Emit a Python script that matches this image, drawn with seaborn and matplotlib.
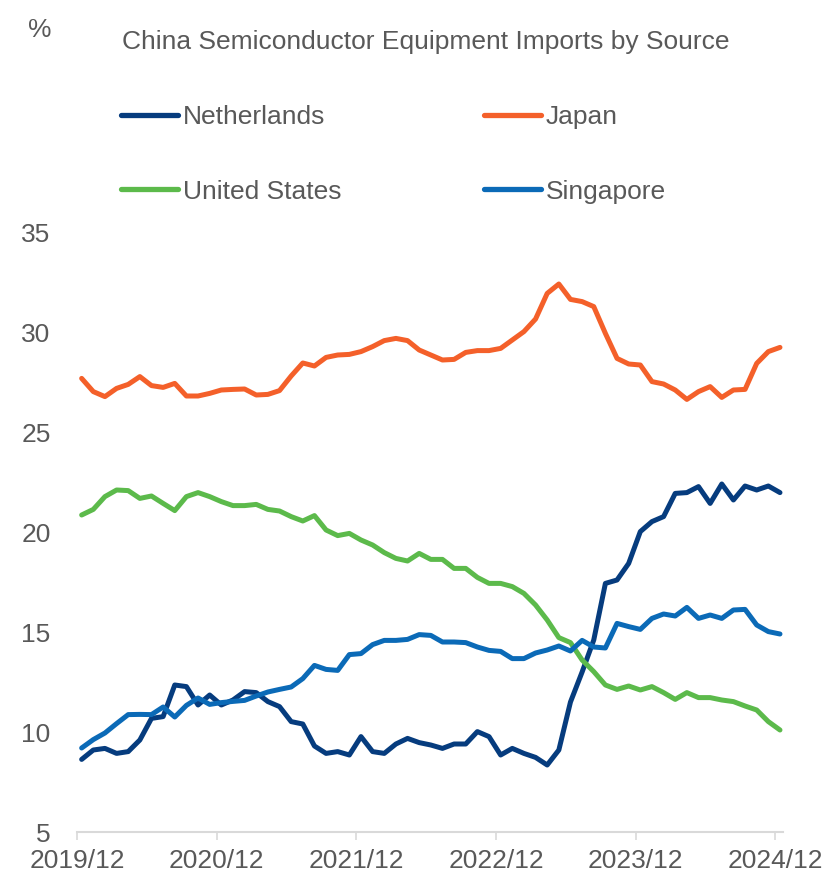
import numpy as np
import pandas as pd
import matplotlib
matplotlib.use("Agg")
import matplotlib.pyplot as plt
import seaborn as sns

# ---- data (share of China's semiconductor equipment imports, %) ----
months = pd.date_range("2019-12-01", "2024-12-01", freq="MS").strftime("%Y/%m").tolist()

netherlands = [8.63, 9.10, 9.18, 8.93, 9.02, 9.60, 10.68, 10.77, 12.35, 12.27,
               11.35, 11.85, 11.35, 11.60, 12.02, 11.97, 11.52, 11.27, 10.52, 10.40,
               9.30, 8.93, 9.02, 8.85, 9.77, 9.02, 8.93, 9.40, 9.68, 9.47,
               9.35, 9.18, 9.40, 9.40, 10.02, 9.77, 8.85, 9.18, 8.93, 8.73,
               8.35, 9.10, 11.50, 13.00, 14.60, 17.43, 17.60, 18.43, 20.02, 20.52,
               20.77, 21.93, 21.97, 22.27, 21.43, 22.40, 21.60, 22.30, 22.10, 22.30,
               21.97]
japan = [27.68, 27.02, 26.77, 27.18, 27.38, 27.77, 27.32, 27.23, 27.43, 26.80,
         26.80, 26.93, 27.10, 27.13, 27.15, 26.85, 26.88, 27.07, 27.80, 28.45,
         28.30, 28.73, 28.85, 28.88, 29.02, 29.27, 29.57, 29.68, 29.57, 29.10,
         28.85, 28.60, 28.63, 28.98, 29.07, 29.07, 29.18, 29.60, 30.02, 30.65,
         31.93, 32.40, 31.63, 31.52, 31.27, 29.93, 28.68, 28.40, 28.35, 27.52,
         27.40, 27.10, 26.63, 27.02, 27.27, 26.73, 27.10, 27.13, 28.43, 29.02,
         29.23]
united_states = [20.85, 21.13, 21.77, 22.10, 22.07, 21.68, 21.80, 21.43, 21.07, 21.77,
                 21.97, 21.77, 21.52, 21.32, 21.32, 21.38, 21.13, 21.05, 20.77, 20.55,
                 20.82, 20.10, 19.82, 19.93, 19.60, 19.35, 18.97, 18.68, 18.55, 18.93,
                 18.63, 18.63, 18.18, 18.18, 17.73, 17.43, 17.43, 17.27, 16.93, 16.35,
                 15.60, 14.72, 14.47, 13.60, 13.02, 12.35, 12.13, 12.30, 12.10, 12.27,
                 11.97, 11.63, 11.97, 11.72, 11.72, 11.60, 11.52, 11.30, 11.10, 10.52,
                 10.10]
singapore = [9.20, 9.62, 9.95, 10.42, 10.87, 10.88, 10.87, 11.25, 10.75, 11.33,
             11.70, 11.38, 11.47, 11.53, 11.58, 11.80, 12.00, 12.13, 12.25, 12.67,
             13.33, 13.13, 13.08, 13.87, 13.92, 14.37, 14.58, 14.58, 14.63, 14.87,
             14.83, 14.50, 14.50, 14.47, 14.25, 14.08, 14.03, 13.67, 13.67, 13.95,
             14.10, 14.30, 14.05, 14.58, 14.25, 14.20, 15.43, 15.27, 15.13, 15.68,
             15.90, 15.80, 16.23, 15.68, 15.85, 15.68, 16.10, 16.13, 15.35, 15.02,
             14.90]

series_names = ["Netherlands", "Japan", "United States", "Singapore"]
series_colors = ["#063C7E", "#F4602A", "#5CBA4B", "#0B6AB7"]
tick_labels = ["2019/12", "2020/12", "2021/12", "2022/12", "2023/12", "2024/12"]
y_ticks = [5, 10, 15, 20, 25, 30, 35]

# ---- long-form table ----
frames = []
for name, vals in zip(series_names, [netherlands, japan, united_states, singapore]):
    frames.append(pd.DataFrame({"idx": np.arange(len(months)), "month": months,
                                "value": vals, "source": name}))
df = pd.concat(frames, ignore_index=True)

sns.set_theme(style="white")
plt.rcParams["font.family"] = ["Liberation Sans", "DejaVu Sans"]
txt = "#595959"
fs = 19

fig = plt.figure(figsize=(8.31, 8.77), dpi=100)
ax = fig.add_axes([77 / 831, 1 - 832 / 877, 706 / 831, 600 / 877])

sns.lineplot(data=df, x="idx", y="value", hue="source", hue_order=series_names,
             palette=series_colors, linewidth=3.6, ax=ax, legend=True)

ax.set_xlim(-0.34, 60.26)
ax.set_ylim(5, 35)
ax.set_yticks(y_ticks)
ax.set_yticklabels([str(t) for t in y_ticks])
tick_pos = [12 * k - 0.4 for k in range(len(tick_labels))]
ax.set_xticks(tick_pos)
ax.set_xticklabels(tick_labels)
ax.set_xlabel("")
ax.set_ylabel("")

for s in ["left", "right", "top"]:
    ax.spines[s].set_visible(False)
ax.spines["bottom"].set_color("#D9D9D9")
ax.spines["bottom"].set_linewidth(1.5)
ax.tick_params(axis="x", length=6, width=1.2, color="#D9D9D9", direction="out",
               labelsize=fs, labelcolor=txt, pad=6, bottom=True)
ax.tick_params(axis="y", length=0, labelsize=fs, labelcolor=txt, pad=19)
ax.grid(False)

# legend filled row-wise: Netherlands, Japan / United States, Singapore
handles, labels = ax.get_legend_handles_labels()
lookup = dict(zip(labels, handles))
order = ["Netherlands", "United States", "Japan", "Singapore"]
ax.legend([lookup[o] for o in order], order, ncol=2, loc="upper left",
          bbox_to_anchor=(121 / 831, 1 - 105 / 877), bbox_transform=fig.transFigure,
          frameon=False, fontsize=fs, labelcolor=txt, handlelength=2.15,
          handletextpad=0.2, columnspacing=5.4, labelspacing=1.92,
          borderpad=0, borderaxespad=0)
for h in ax.get_legend().get_lines():
    h.set_linewidth(3.8)

fig.text(122 / 831, 1 - 42 / 877, "China Semiconductor Equipment Imports by Source",
         fontsize=fs, color=txt, ha="left", va="center")
fig.text(40 / 831, 1 - 30 / 877, "%", fontsize=fs, color=txt, ha="center", va="center")

fig.savefig("out.png", dpi=100, facecolor="white")
